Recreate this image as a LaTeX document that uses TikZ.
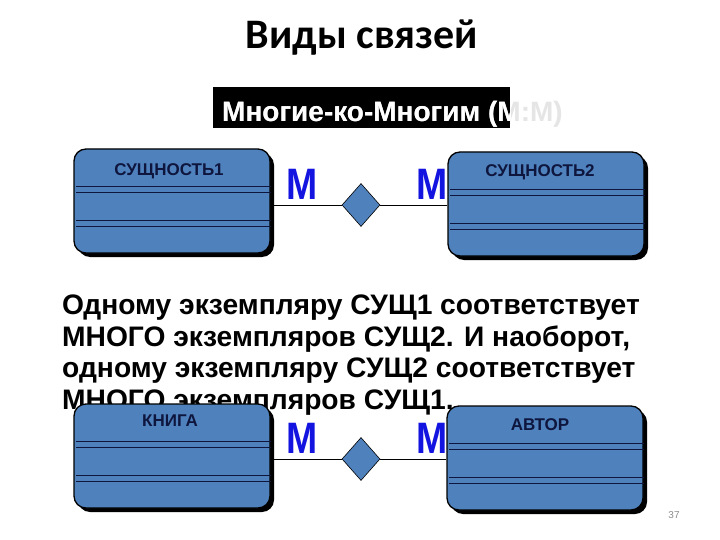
\documentclass[tikz,border=0pt]{standalone}
\usepackage{fontspec}
\setmainfont{Liberation Sans}
\newfontfamily\slidefont{Carlito}
\usepackage{graphicx}
\usetikzlibrary{positioning,shapes.geometric,shadows,calc}
\definecolor{entblue}{RGB}{79,129,189}
\definecolor{entink}{RGB}{14,22,62}
\definecolor{cardblue}{RGB}{20,20,225}
\pgfdeclarelayer{back}
\pgfsetlayers{back,main}
\tikzset{
  entity/.style={draw=black, line width=1.3pt, fill=entblue, rounded corners=12pt,
                 minimum width=196pt, minimum height=104pt, inner sep=0pt,
                 drop shadow={shadow xshift=4pt, shadow yshift=-4pt,
                              fill=black, opacity=1}},
  enttitle/.style={font=\bfseries\fontsize{17}{17}\selectfont, text=entink,
                   inner sep=0pt},
  sep/.style={draw=entink, line width=0.9pt},
  rel/.style={diamond, draw=black, line width=0.6pt, fill=entblue,
              minimum width=38pt, minimum height=43pt, inner sep=0pt},
  card/.style={font=\bfseries\fontsize{44}{44}\selectfont, text=cardblue,
               inner sep=0pt},
  link/.style={draw=black, line width=0.8pt},
  para/.style={font=\bfseries\fontsize{28.2}{31.5}\selectfont, align=left,
               inner sep=0pt},
  subtxt/.style={font=\bfseries\fontsize{28}{28}\selectfont, anchor=base west,
                 inner sep=0pt},
}
\newcommand{\narrowM}{\scalebox{0.85}[1]{М}}

\begin{document}
\begin{tikzpicture}[x=1pt, y=-1pt]
  \useasboundingbox (0,0) rectangle (720,540);
  \begin{pgfonlayer}{back}
    \fill[white] (0,0) rectangle (720,540);
  \end{pgfonlayer}
  % heading
  \node[font=\slidefont\bfseries\fontsize{42}{42}\selectfont, anchor=base,
        inner sep=0pt] (title) at (362,49) {Виды связей};
  \node[fill=black, anchor=north west, minimum width=297pt,
        minimum height=41pt, inner sep=0pt] (subbox) at (213,87) {};
  \node[subtxt, text=black!10] (sub) at (222,122) {Многие-ко-Многим (М:М)};
  \begin{scope}
    \clip (subbox.north west) rectangle (subbox.south east);
    \node[subtxt, text=white] at (sub.base west) {Многие-ко-Многим (М:М)};
  \end{scope}

  % entities
  \node[entity] (ent1) at (172,201) {};
  \node[entity] (ent2) at (546,204) {};
  \node[entity] (book) at (172,456) {};
  \node[entity] (author) at (545,458) {};
  \foreach \e in {ent1,ent2,book,author}
    \foreach \d in {38,44,72,78}
      \draw[sep] ($(\e.north west)+(3,\d)$) -- ($(\e.north east)+(0,\d)$);
  \node[enttitle, below=15pt of ent1.north, xshift=-3pt] (ent1t) {СУЩНОСТЬ1};
  \node[enttitle, below=13pt of ent2.north, xshift=-6pt] (ent2t) {СУЩНОСТЬ2};
  \node[enttitle, below=11pt of book.north, xshift=-2pt] (bookt) {КНИГА};
  \node[enttitle, below=13pt of author.north, xshift=-5pt] (authort) {АВТОР};

  % relations
  \node[rel] (rel1) at (361,205) {};
  \node[rel] (rel2) at (361,459) {};

  \begin{pgfonlayer}{back}
    \node[para, anchor=north west] (note) at (62,295)
      {Одному экземпляру СУЩ1 соответствует\\
       МНОГО экземпляров СУЩ2. И наоборот,\\
       одному экземпляру СУЩ2 соответствует\\
       МНОГО экземпляров СУЩ1.};
    \draw[link] (ent1.east |- rel1) -- (rel1.west);
    \draw[link] (rel1.east) -- (ent2.west |- rel1);
    \draw[link] (book.east |- rel2) -- (rel2.west);
    \draw[link] (rel2.east) -- (author.west |- rel2);
    \node[card] (m1) at (302,184) {\narrowM};
    \node[card] (m2) at (432,184) {\narrowM};
    \node[card] (m3) at (302,438) {\narrowM};
    \node[card] (m4) at (432,438) {\narrowM};
  \end{pgfonlayer}

  \node[font=\fontsize{10}{10}\selectfont, text=black!45] (pnum) at (674,515) {37};
\end{tikzpicture}
\end{document}
